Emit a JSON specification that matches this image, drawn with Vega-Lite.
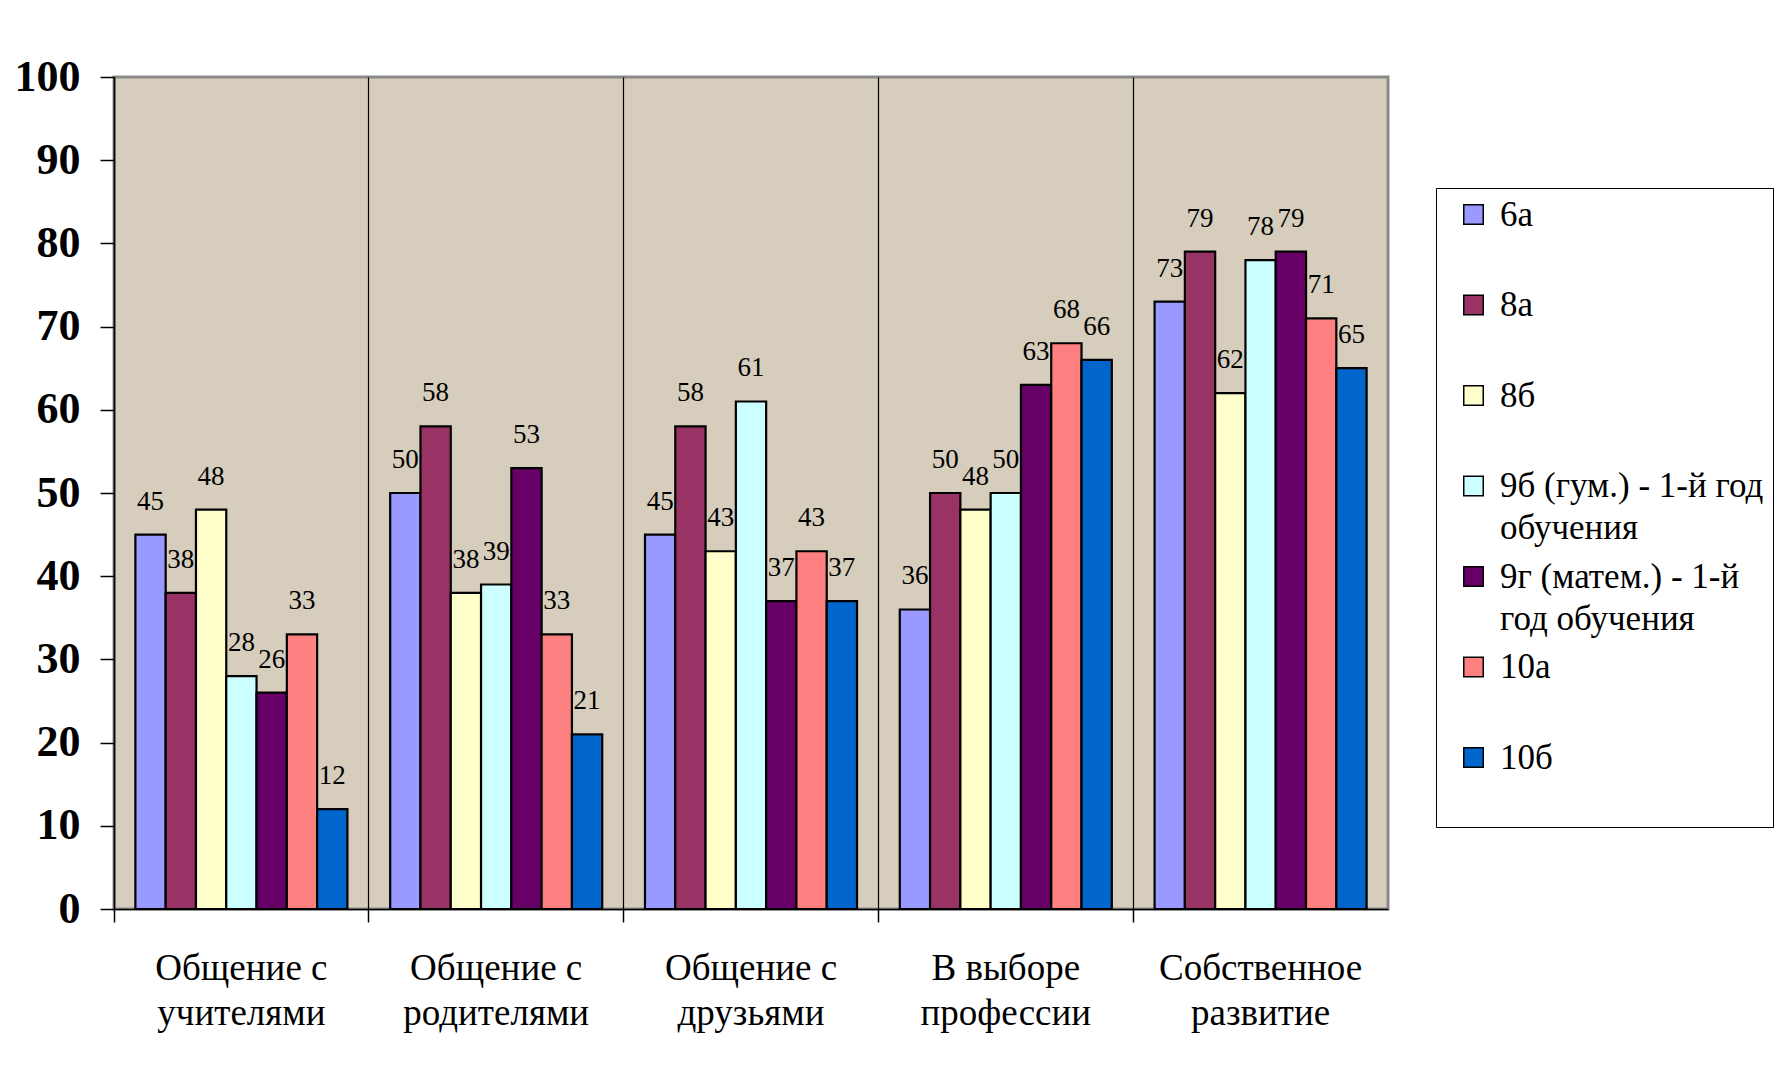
{
  "$schema": "https://vega.github.io/schema/vega-lite/v6.json",
  "autosize": {"type": "none"},
  "width": 1274,
  "height": 832,
  "padding": {"left": 114, "top": 77, "right": 399, "bottom": 158},
  "background": "#ffffff",
  "data": {
    "values": [
      {"cat": "Общение с учителями", "cls": "6а", "v": 45},
      {"cat": "Общение с учителями", "cls": "8а", "v": 38},
      {"cat": "Общение с учителями", "cls": "8б", "v": 48},
      {"cat": "Общение с учителями", "cls": "9б (гум.) - 1-й год обучения", "v": 28},
      {"cat": "Общение с учителями", "cls": "9г (матем.) - 1-й год обучения", "v": 26},
      {"cat": "Общение с учителями", "cls": "10а", "v": 33},
      {"cat": "Общение с учителями", "cls": "10б", "v": 12},
      {"cat": "Общение с родителями", "cls": "6а", "v": 50},
      {"cat": "Общение с родителями", "cls": "8а", "v": 58},
      {"cat": "Общение с родителями", "cls": "8б", "v": 38},
      {"cat": "Общение с родителями", "cls": "9б (гум.) - 1-й год обучения", "v": 39},
      {"cat": "Общение с родителями", "cls": "9г (матем.) - 1-й год обучения", "v": 53},
      {"cat": "Общение с родителями", "cls": "10а", "v": 33},
      {"cat": "Общение с родителями", "cls": "10б", "v": 21},
      {"cat": "Общение с друзьями", "cls": "6а", "v": 45},
      {"cat": "Общение с друзьями", "cls": "8а", "v": 58},
      {"cat": "Общение с друзьями", "cls": "8б", "v": 43},
      {"cat": "Общение с друзьями", "cls": "9б (гум.) - 1-й год обучения", "v": 61},
      {"cat": "Общение с друзьями", "cls": "9г (матем.) - 1-й год обучения", "v": 37},
      {"cat": "Общение с друзьями", "cls": "10а", "v": 43},
      {"cat": "Общение с друзьями", "cls": "10б", "v": 37},
      {"cat": "В выборе профессии", "cls": "6а", "v": 36},
      {"cat": "В выборе профессии", "cls": "8а", "v": 50},
      {"cat": "В выборе профессии", "cls": "8б", "v": 48},
      {"cat": "В выборе профессии", "cls": "9б (гум.) - 1-й год обучения", "v": 50},
      {"cat": "В выборе профессии", "cls": "9г (матем.) - 1-й год обучения", "v": 63},
      {"cat": "В выборе профессии", "cls": "10а", "v": 68},
      {"cat": "В выборе профессии", "cls": "10б", "v": 66},
      {"cat": "Собственное развитие", "cls": "6а", "v": 73},
      {"cat": "Собственное развитие", "cls": "8а", "v": 79},
      {"cat": "Собственное развитие", "cls": "8б", "v": 62},
      {"cat": "Собственное развитие", "cls": "9б (гум.) - 1-й год обучения", "v": 78},
      {"cat": "Собственное развитие", "cls": "9г (матем.) - 1-й год обучения", "v": 79},
      {"cat": "Собственное развитие", "cls": "10а", "v": 71},
      {"cat": "Собственное развитие", "cls": "10б", "v": 65}
    ]
  },
  "encoding": {
    "x": {
      "field": "cat", "type": "nominal", "sort": null,
      "scale": {"paddingInner": 0, "paddingOuter": 0},
      "axis": {
        "title": null, "labelAngle": 0, "bandPosition": 0,
        "grid": true, "gridColor": "#000000", "gridWidth": 1.2,
        "domainColor": "#000000", "domainWidth": 1.5,
        "tickColor": "#000000", "tickSize": 13, "tickWidth": 1.5,
        "labelFont": "Liberation Serif", "labelFontSize": 37, "labelColor": "#000000",
        "labelLineHeight": 45, "labelPadding": 28, "labelBaseline": "top", "labelLimit": 500,
        "labelExpr": "datum.value == 'Общение с учителями' ? ['Общение с', 'учителями'] : datum.value == 'Общение с родителями' ? ['Общение с', 'родителями'] : datum.value == 'Общение с друзьями' ? ['Общение с', 'друзьями'] : datum.value == 'В выборе профессии' ? ['В выборе', 'профессии'] : ['Собственное', 'развитие']"
      }
    },
    "xOffset": {
      "field": "cls", "type": "nominal", "sort": null,
      "scale": {"paddingInner": 0, "paddingOuter": 0.706}
    },
    "y": {
      "field": "v", "type": "quantitative",
      "scale": {"domain": [0, 100], "nice": false},
      "axis": {
        "title": null, "values": [0, 10, 20, 30, 40, 50, 60, 70, 80, 90, 100],
        "grid": false, "domainColor": "#000000", "domainWidth": 1.5,
        "tickColor": "#000000", "tickSize": 14, "tickWidth": 1.5,
        "labelFont": "Liberation Serif", "labelFontSize": 44, "labelFontWeight": "bold",
        "labelColor": "#000000", "labelPadding": 20
      }
    }
  },
  "layer": [
    {
      "mark": {"type": "text", "font": "Liberation Serif", "fontSize": 27, "color": "#000000", "baseline": "alphabetic", "dy": -25},
      "encoding": {"text": {"field": "v", "type": "quantitative"}}
    },
    {
      "mark": {"type": "bar", "stroke": "#000000", "strokeWidth": 2.2, "opacity": 1},
      "encoding": {
        "color": {
          "field": "cls", "type": "nominal", "sort": null,
          "scale": {
            "domain": ["6а", "8а", "8б", "9б (гум.) - 1-й год обучения", "9г (матем.) - 1-й год обучения", "10а", "10б"],
            "range": ["#9999FF", "#993366", "#FFFFCC", "#CCFFFF", "#660066", "#FF8080", "#0066CC"]
          },
          "legend": {
            "title": null,
            "orient": "none", "legendX": 1322, "legendY": 111,
            "symbolType": "square", "symbolSize": 380, "symbolStrokeColor": "#000000", "symbolStrokeWidth": 1.5,
            "symbolOpacity": 1, "symbolOffset": 11,
            "labelFont": "Liberation Serif", "labelFontSize": 35, "labelColor": "#000000", "labelOffset": 9,
            "labelLimit": 400, "rowPadding": 12.5,
            "fillColor": "#ffffff", "strokeColor": "#000000", "padding": 9,
            "labelExpr": "datum.label == '9б (гум.) - 1-й год обучения' ? ['9б (гум.) - 1-й год', 'обучения'] : datum.label == '9г (матем.) - 1-й год обучения' ? ['9г (матем.) - 1-й', 'год обучения'] : [datum.label, '']"
          }
        }
      }
    }
  ],
  "config": {
    "view": {"fill": "#d6cdbc", "stroke": "#8a8a8a", "strokeWidth": 3},
    "style": {"guide-label": {"lineHeight": 42}}
  }
}
